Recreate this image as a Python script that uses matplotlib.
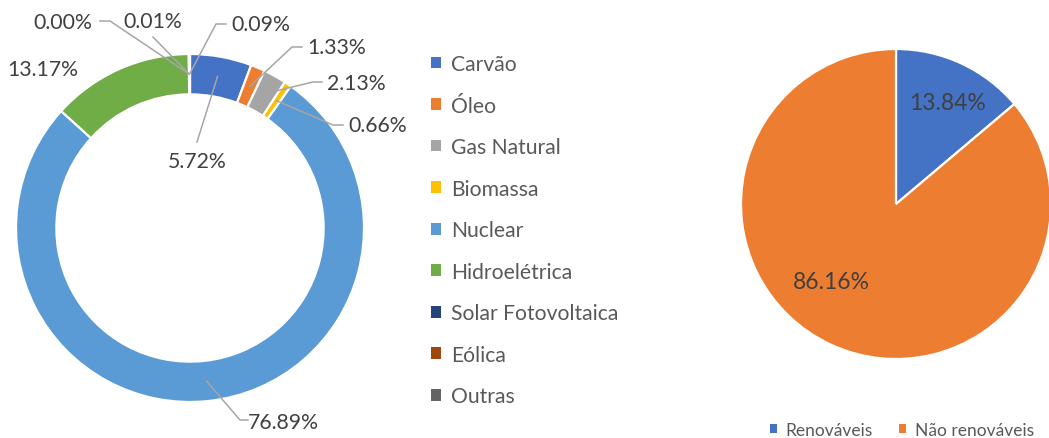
import matplotlib
matplotlib.use('Agg')
import matplotlib.pyplot as plt
from matplotlib.patches import Patch
import numpy as np

plt.rcParams['font.family'] = ['Lato', 'DejaVu Sans']

# matrix share (%) - donut, clockwise from 12 o'clock
sources = ['Carvão', 'Óleo', 'Gas Natural', 'Biomassa', 'Nuclear',
           'Hidroelétrica', 'Solar Fotovoltaica', 'Eólica', 'Outras']
shares = [5.72, 1.33, 2.13, 0.66, 76.89, 13.17, 0.00, 0.01, 0.09]
colors = ['#4472C4', '#ED7D31', '#A5A5A5', '#FFC000', '#5B9BD5',
          '#70AD47', '#264478', '#9E480E', '#636363']

# renewable split - pie
groups = ['Renováveis', 'Não renováveis']
group_shares = [13.84, 86.16]
group_colors = ['#4472C4', '#ED7D31']

TXT = '#404040'
LEG = '#595959'
LINE = '#A6A6A6'

W, H = 1049, 439
fig = plt.figure(figsize=(W / 100, H / 100), dpi=100)

# ---- donut ----
CX, CY, R = 190, 229, 174
ax = fig.add_axes([(CX - R) / W, (H - CY - R) / H, 2 * R / W, 2 * R / H])
wedges, _ = ax.pie(shares, colors=colors, startangle=90, counterclock=False,
                   radius=1, wedgeprops=dict(width=0.232, edgecolor='white',
                                             linewidth=1.6))
ax.set_xlim(-1, 1)
ax.set_ylim(-1, 1)
ax.set_aspect('equal')
ax.axis('off')


def dpx(x, y):
    """pixel position -> donut data coords"""
    return (x - CX) / R, (CY - y) / R


# label layout in pixels: text centre, leader path (elbow points)
label_layout = {
    'Carvão': ((197, 162), [(197, 143)]),
    'Óleo': ((337, 48), [(292, 48), (302, 48)]),
    'Gas Natural': ((356, 84), [(313, 83), (322, 83)]),
    'Biomassa': ((378, 126), [(333, 126), (343, 126)]),
    'Nuclear': ((283, 423), [(240, 421), (248, 421)]),
    'Hidroelétrica': ((43, 70), []),
    'Solar Fotovoltaica': ((63, 23), [(110, 22), (100, 22)]),
    'Eólica': ((153, 22), [(153, 38)]),
    'Outras': ((261, 25), [(216, 25), (226, 25)]),
}

for w, name, val in zip(wedges, sources, shares):
    (tx, ty), path = label_layout[name]
    if path:
        ang = np.deg2rad((w.theta1 + w.theta2) / 2)
        pts = [(0.885 * np.cos(ang), 0.885 * np.sin(ang))] + [dpx(*p) for p in path]
        xs, ys = zip(*pts)
        ax.plot(xs, ys, color=LINE, lw=1.1, clip_on=False)
    ax.text(*dpx(tx, ty), f'{val:.2f}%', ha='center', va='center',
            fontsize=15.3, color=TXT)

handles = [Patch(facecolor=c, edgecolor='none') for c in colors]
fig.legend(handles, sources, loc='upper left',
           bbox_to_anchor=(431 / W, 1 - 55 / H), frameon=False,
           fontsize=15.2, labelcolor=LEG, handlelength=0.48,
           handleheight=0.48, handletextpad=0.45, labelspacing=1.02,
           borderaxespad=0, borderpad=0)

# ---- renewable pie ----
PX, PY, PR = 896, 205, 155
ax2 = fig.add_axes([(PX - PR) / W, (H - PY - PR) / H, 2 * PR / W, 2 * PR / H])
ax2.pie(group_shares, colors=group_colors, startangle=90, counterclock=False,
        radius=1, wedgeprops=dict(edgecolor='white', linewidth=1.6))
ax2.set_xlim(-1, 1)
ax2.set_ylim(-1, 1)
ax2.set_aspect('equal')
ax2.axis('off')

pie_label_px = [(947, 103), (831, 283)]
for (lx, ly), val in zip(pie_label_px, group_shares):
    ax2.text((lx - PX) / PR, (PY - ly) / PR, f'{val:.2f}%', ha='center',
             va='center', fontsize=16.5, color=TXT)

handles2 = [Patch(facecolor=c, edgecolor='none') for c in group_colors]
fig.legend(handles2, groups, loc='center', ncol=2,
           bbox_to_anchor=(902 / W, 1 - 431 / H), frameon=False,
           fontsize=12.5, labelcolor=LEG, handlelength=0.4,
           handleheight=0.4, handletextpad=0.5, columnspacing=1.5,
           borderaxespad=0, borderpad=0)

fig.savefig('out.png', dpi=100)
